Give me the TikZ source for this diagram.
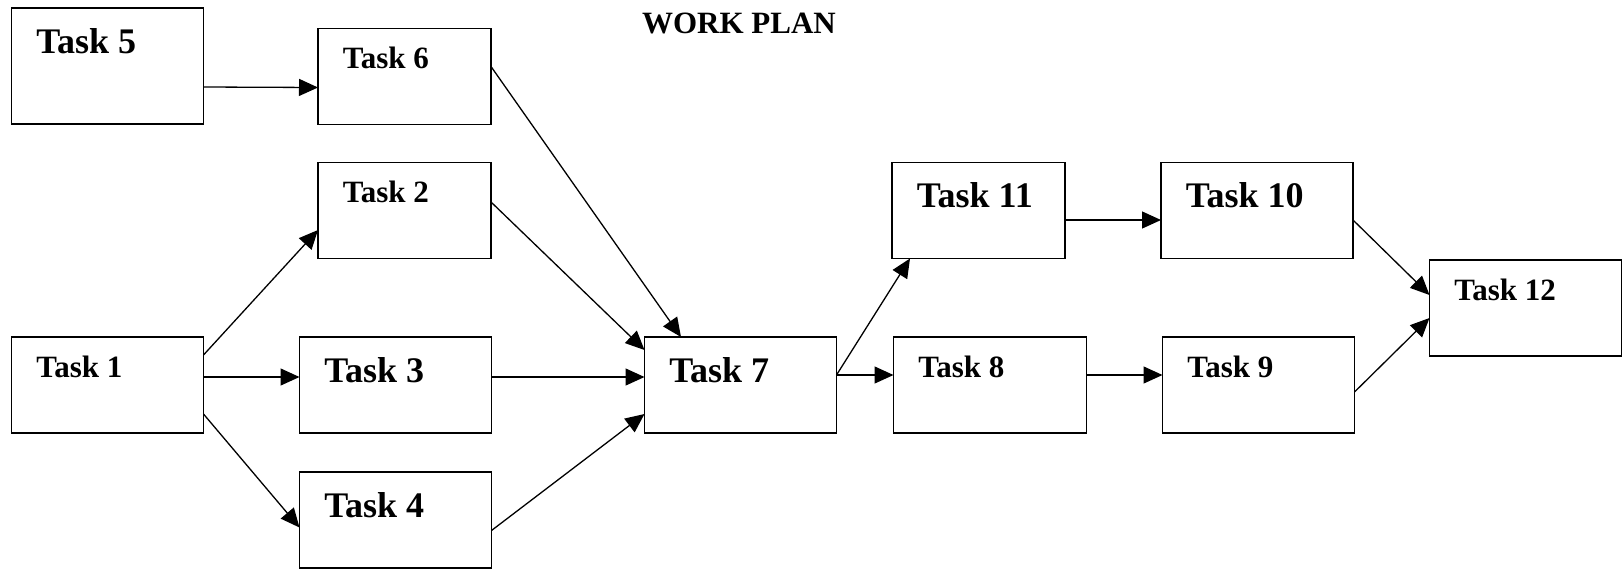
\documentclass[tikz,border=0pt]{standalone}
\usepackage{fontspec}
\setmainfont{Liberation Serif}
\usetikzlibrary{positioning, arrows.meta}

\begin{document}
\begin{tikzpicture}[x=1pt, y=-1pt, node distance={96pt}, >={Triangle[length=19pt, width=17pt]},
    main/.style = {draw, rectangle, line width=1.5pt, minimum width=192pt, minimum height=96pt, inner sep=0pt, outer sep=0pt},
    narrow/.style = {minimum width=173pt},
    big/.style = {anchor=base west, xshift=21pt, yshift=-45pt, font=\bfseries\fontsize{36}{36}\selectfont},
    small/.style = {anchor=base west, xshift=21pt, yshift=-40pt, font=\bfseries\fontsize{31}{31}\selectfont},
    every path/.style = {line width=1.3pt}]
      \useasboundingbox (0,0) rectangle (1623,568);

      \node[font=\bfseries\fontsize{31}{31}\selectfont, anchor=base] (title) at (739,33) {WORK PLAN};

      \node[main, minimum height=116pt, label={[big]north west:Task 5}] (5) at (107.5,66) {};
      \node[main, narrow, label={[small]north west:Task 2}] (2) at (404.5,210.5) {};
      \node[main, narrow, label={[small]north west:Task 6}] (6) [above=38pt of 2] {};

      \node[main, label={[small]north west:Task 1}] (1) at (107.5,385) {};
      \node[main, label={[big]north west:Task 3}] (3) [right=96pt of 1] {};
      \node[main, label={[big]north west:Task 4}] (4) [below=39pt of 3] {};
      \node[main, label={[big]north west:Task 7}] (7) [right=153pt of 3] {};
      \node[main, minimum width=193pt, label={[small]north west:Task 8}] (8) [right=57pt of 7] {};
      \node[main, label={[small]north west:Task 9}] (9) [right=76pt of 8] {};

      \node[main, narrow, label={[big]north west:Task 11}] (11) at (978.5,210.5) {};
      \node[main, label={[big]north west:Task 10}] (10) [right=96pt of 11] {};

      \node[main, label={[small]north west:Task 12}] (12) at (1525.5,308) {};


      \draw[->] ([yshift=-21pt]5.east) -- ([yshift=-11pt]6.west);
      \draw[->] ([yshift=10pt]6.east) -- ([xshift=-59.5pt]7.north);
      \draw[->] ([yshift=8.5pt]2.east) -- ([yshift=35pt]7.west);
      \draw[->] ([yshift=30pt]1.east) -- ([yshift=-19.5pt]2.west);
      \draw[->] ([yshift=8pt]1.east) -- ([yshift=8pt]3.west);
      \draw[->] ([yshift=-29pt]1.east) -- ([yshift=-7.5pt]4.west);
      \draw[->] ([yshift=8pt]3.east) -- ([yshift=8pt]7.west);
      \draw[->] ([yshift=-10.5pt]4.east) -- ([yshift=-29pt]7.west);
      \draw[->] ([yshift=10pt]7.east) -- ([xshift=-68.5pt]11.south);
      \draw[->] ([yshift=10pt]7.east) -- ([yshift=10pt]8.west);
      \draw[->] ([yshift=-9.5pt]11.east) -- ([yshift=-9.5pt]10.west);
      \draw[->] ([yshift=10pt]8.east) -- ([yshift=10pt]9.west);
      \draw[->] ([yshift=-9.5pt]10.east) -- ([yshift=13pt]12.west);
      \draw[->] ([yshift=-7pt]9.east) -- ([yshift=-10pt]12.west);
    \end{tikzpicture}
\end{document}
